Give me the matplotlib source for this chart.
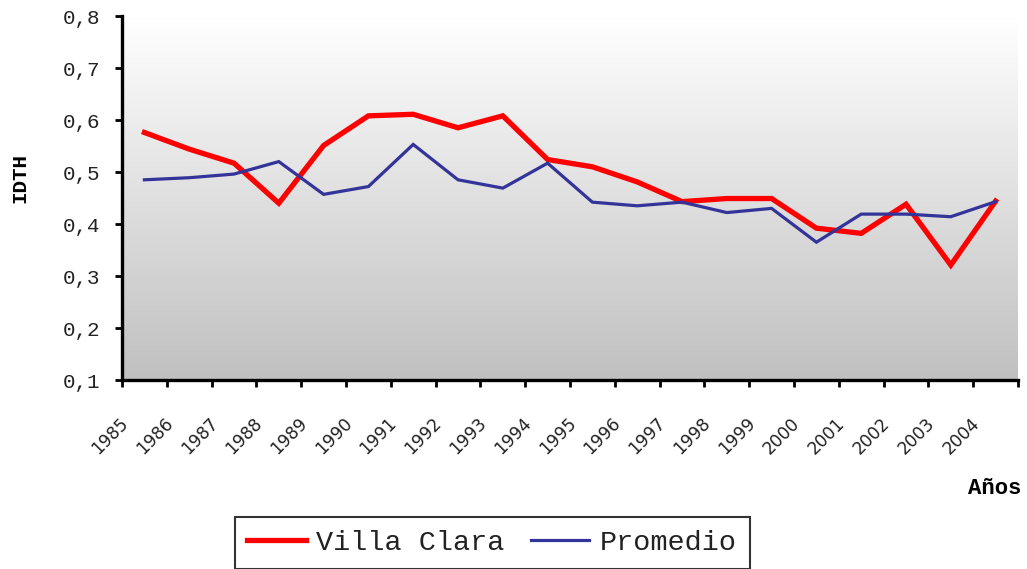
import numpy as np
import matplotlib
matplotlib.use("Agg")
import matplotlib.pyplot as plt
import matplotlib.transforms as mtransforms

years = ["1985", "1986", "1987", "1988", "1989", "1990", "1991", "1992", "1993", "1994",
         "1995", "1996", "1997", "1998", "1999", "2000", "2001", "2002", "2003", "2004"]
villa_clara = [0.576, 0.544, 0.517, 0.440, 0.551, 0.608, 0.611, 0.585, 0.608, 0.524,
               0.510, 0.481, 0.443, 0.449, 0.449, 0.392, 0.382, 0.438, 0.321, 0.444]
promedio = [0.485, 0.489, 0.496, 0.520, 0.457, 0.472, 0.553, 0.485, 0.469, 0.517,
            0.442, 0.435, 0.442, 0.422, 0.430, 0.365, 0.419, 0.419, 0.414, 0.443]
y_ticks = [0.1, 0.2, 0.3, 0.4, 0.5, 0.6, 0.7, 0.8]
y_ticklabels = ["0,1", "0,2", "0,3", "0,4", "0,5", "0,6", "0,7", "0,8"]

MONO = ["Liberation Mono", "DejaVu Sans Mono"]

fig = plt.figure(figsize=(10.27, 5.69), dpi=100)
ax = fig.add_axes([122/1027, 1-380/569, (1018-122)/1027, (380-16)/569])

# gradient background
grad = np.linspace(0, 1, 256).reshape(-1, 1)
top = np.array([1.0, 1.0, 1.0])
bot = np.array([192, 192, 192]) / 255
img = top[None, None, :] * (1 - grad[:, :, None]) + bot[None, None, :] * grad[:, :, None]
ax.imshow(img, extent=[0, 1, 0, 1], transform=ax.transAxes, aspect="auto", zorder=0)

n = len(years)
xc = np.arange(n) + 0.5
ax.plot(xc, villa_clara, color="#FF0000", lw=3.8, label="Villa Clara", zorder=3,
        solid_joinstyle="miter")
ax.plot(xc, promedio, color="#333399", lw=2.3, label="Promedio", zorder=4,
        solid_joinstyle="miter")

ax.set_xlim(0, n)
ax.set_ylim(0.1, 0.8)

for s in ["top", "right"]:
    ax.spines[s].set_visible(False)
for s in ["left", "bottom"]:
    ax.spines[s].set_linewidth(2.4)
    ax.spines[s].set_color("black")

ax.set_yticks(y_ticks)
ax.set_yticklabels(y_ticklabels, fontfamily=MONO, fontsize=15, color="#222222")
ax.tick_params(axis="y", direction="out", length=5, width=2, pad=11)

ax.set_xticks(np.arange(n + 1))
ax.set_xticklabels([])
ax.tick_params(axis="x", which="major", direction="out", length=5, width=2)
ax.set_xticks(xc, minor=True)
ax.set_xticklabels(years, minor=True, rotation=45, ha="right", va="center",
                   rotation_mode="anchor", fontfamily="DejaVu Sans", fontsize=12.3,
                   color="#222222")
ax.tick_params(axis="x", which="minor", length=0, pad=29)
off = mtransforms.ScaledTranslation(-19/100, 0, fig.dpi_scale_trans)
for lab in ax.get_xticklabels(minor=True):
    lab.set_transform(lab.get_transform() + off)

fig.text(20/1027, 1-178/569, "IDTH", rotation=90, ha="center", va="center",
         fontfamily=MONO, fontweight="bold", fontsize=15)
fig.text(995/1027, 1-488/569, "Años", ha="center", va="center",
         fontfamily=MONO, fontweight="bold", fontsize=16)

leg = fig.legend(loc="center", bbox_to_anchor=(492/1027, 1-543/569), ncol=2,
                 prop={"family": MONO, "size": 20.5}, frameon=True, fancybox=False,
                 edgecolor="black", handlelength=2.05, handletextpad=0.38,
                 columnspacing=0.9, borderpad=0.45, borderaxespad=0)
leg.get_frame().set_linewidth(1.5)
leg.get_frame().set_facecolor("white")
for t in leg.get_texts():
    t.set_color("#222222")

fig.savefig("out.png", dpi=100)
